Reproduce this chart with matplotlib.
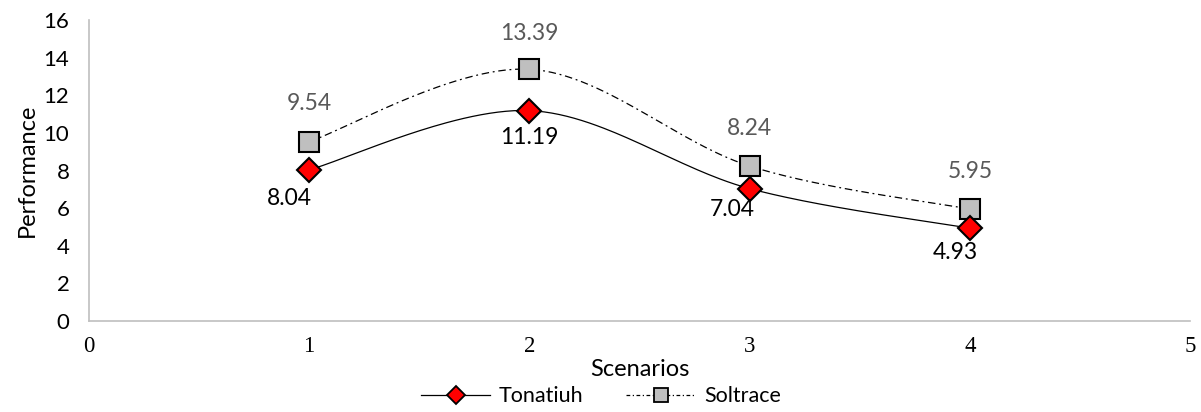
import numpy as np
import matplotlib.pyplot as plt

plt.rcParams['font.family'] = ['Lato', 'DejaVu Sans']

scenarios = [1, 2, 3, 4]
tonatiuh = [8.04, 11.19, 7.04, 4.93]
soltrace = [9.54, 13.39, 8.24, 5.95]


def smooth(x, y, n=60):
    # bezier smoothing through every point, like spreadsheet "smoothed line"
    x = np.asarray(x, float)
    y = np.asarray(y, float)
    px = np.concatenate([[x[0]], x, [x[-1]]])
    py = np.concatenate([[y[0]], y, [y[-1]]])
    xs, ys = [], []
    t = np.linspace(0, 1, n)
    for i in range(1, len(x)):
        p0 = np.array([px[i], py[i]])
        p3 = np.array([px[i + 1], py[i + 1]])
        c1 = p0 + (p3 - np.array([px[i - 1], py[i - 1]])) / 6
        c2 = p3 - (np.array([px[i + 2], py[i + 2]]) - p0) / 6
        b = ((1 - t) ** 3)[:, None] * p0 + (3 * (1 - t) ** 2 * t)[:, None] * c1 \
            + (3 * (1 - t) * t ** 2)[:, None] * c2 + (t ** 3)[:, None] * p3
        xs.append(b[:, 0])
        ys.append(b[:, 1])
    return np.concatenate(xs), np.concatenate(ys)


fig = plt.figure(figsize=(12.01, 4.12), dpi=100)
ax = fig.add_axes([0.074, 0.221, 0.917, 0.730])

tx, ty = smooth(scenarios, tonatiuh)
sx, sy = smooth(scenarios, soltrace)
ax.plot(sx, sy, color='black', lw=0.9, dashes=(6, 3, 1.5, 3), zorder=2)
ax.plot(tx, ty, color='black', lw=0.9, zorder=2)
ax.plot(scenarios, soltrace, ls='none', marker='s', ms=15, mfc='#bfbfbf',
        mec='black', mew=1.5, zorder=3)
ax.plot(scenarios, tonatiuh, ls='none', marker='D', ms=12, mfc='#ff0000',
        mec='black', mew=1.5, zorder=3)

# legend proxies
ax.plot([], [], color='black', lw=0.9, marker='D', ms=9, mfc='#ff0000',
        mec='black', mew=1.3, label='Tonatiuh')
ax.plot([], [], color='black', lw=0.9, dashes=(3, 2, 1, 2), marker='s', ms=10,
        mfc='#bfbfbf', mec='black', mew=1.3, label='Soltrace')

t_off = [(-20, -29), (0, -27), (-17, -21), (-15, -24)]
s_off = [(0, 38), (0, 36), (0, 38), (0, 38)]
for x, v, o in zip(scenarios, tonatiuh, t_off):
    ax.annotate(f'{v:.2f}', (x, v), xytext=o, textcoords='offset pixels',
                ha='center', va='center', fontsize=16.5, color='black')
for x, v, o in zip(scenarios, soltrace, s_off):
    ax.annotate(f'{v:.2f}', (x, v), xytext=o, textcoords='offset pixels',
                ha='center', va='center', fontsize=16.5, color='#595959')

ax.set_xlim(0, 5)
ax.set_ylim(0, 16)
ax.set_xticks(range(0, 6))
ax.set_yticks(range(0, 17, 2))
for lbl in ax.get_xticklabels():
    lbl.set_family('Liberation Serif')
    lbl.set_fontsize(16.5)
ax.tick_params(axis='y', labelsize=16, length=0, pad=14)
ax.tick_params(axis='x', length=0, pad=11)

for s in ['top', 'right']:
    ax.spines[s].set_visible(False)
for s in ['left', 'bottom']:
    ax.spines[s].set_color('#bfbfbf')
    ax.spines[s].set_linewidth(1.2)

ax.set_xlabel('Scenarios', fontsize=17, labelpad=1)
ax.set_ylabel('Performance', fontsize=17, labelpad=4)

ax.legend(loc='center', bbox_to_anchor=(0.465, -0.25), ncol=2, frameon=False,
          fontsize=15.5, handlelength=3.2, columnspacing=2.0, handletextpad=0.4,
          borderpad=0.1)

fig.savefig('out.png', dpi=100)
